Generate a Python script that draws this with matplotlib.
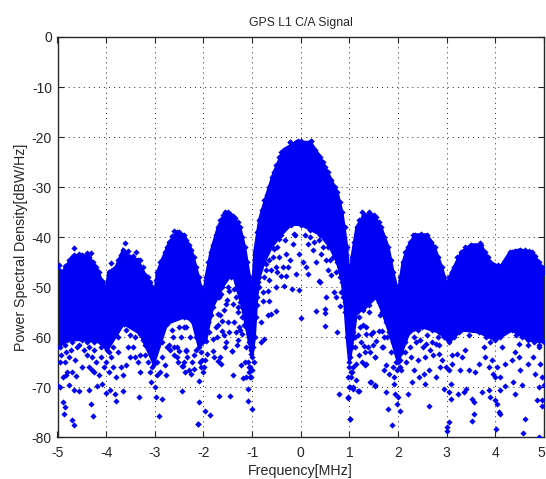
import matplotlib
matplotlib.use("Agg")
import matplotlib.pyplot as plt
from matplotlib.transforms import ScaledTranslation

plt.rcParams['font.family'] = ['Liberation Sans', 'DejaVu Sans']
plt.rcParams['axes.unicode_minus'] = False

# Upper edge of the dense cloud (MHz, dBW/Hz)
top_f = [-5,-4.9,-4.8,-4.7,-4.5,-4.35,-4.2,-4.1,-4.0,-3.95,-3.8,-3.65,-3.5,-3.35,-3.2,-3.1,-3.0,-2.95,-2.85,-2.7,-2.55,-2.4,-2.25,-2.15,-2.05,-2.0,-1.95,-1.85,-1.7,-1.55,-1.4,-1.25,-1.15,-1.05,-1.0,-0.95,-0.85,-0.7,-0.55,-0.35,-0.1,0.2,0.4,0.55,0.75,0.85,0.95,1.0,1.05,1.15,1.3,1.5,1.65,1.8,1.9,2.0,2.1,2.2,2.35,2.6,2.75,2.9,3.0,3.1,3.3,3.5,3.7,3.9,4.1,4.3,4.5,4.75,4.9,5]
top_db = [-46,-47,-45.5,-44,-43.5,-44,-46,-48.5,-50.5,-47,-46,-42.5,-44,-44.5,-47.5,-49,-51,-47,-44.5,-41,-39,-39.5,-42.5,-46,-50,-52,-48,-43,-38,-35,-35.8,-38,-42,-48,-52,-43,-36.5,-31.5,-27,-22.5,-21,-21,-24,-27,-31,-35,-42,-49,-44,-38,-35.5,-35.5,-38,-42,-47,-51,-45,-42,-39.5,-39.5,-42,-46,-49.5,-47,-43,-41.5,-41.5,-45,-46,-43,-42.5,-43,-45,-47]

# Lower edge of the dense cloud
low_f = [-5,-4.8,-4.5,-4.12,-3.98,-3.64,-3.3,-3.02,-2.75,-2.4,-2.23,-2.09,-1.95,-1.81,-1.61,-1.4,-1.2,-1.06,-1.0,-0.95,-0.9,-0.85,-0.75,-0.6,-0.4,-0.2,0,0.2,0.4,0.6,0.75,0.85,0.9,0.95,1.0,1.05,1.15,1.27,1.55,1.68,1.82,2.0,2.23,2.5,2.84,3.05,3.3,3.66,4.0,4.34,4.68,5]
low_db = [-62,-60.6,-60.5,-61,-62.6,-57.3,-59.3,-65.3,-57.3,-56,-56.7,-62,-60.7,-54,-50,-47,-54,-61,-64,-60,-52,-48,-45,-42,-39.5,-37.5,-37.5,-38.5,-39.5,-42,-45,-49,-53,-60,-65,-62,-55,-54.6,-52,-55,-59,-65,-59,-58,-59,-61,-58.6,-59,-60.6,-58.6,-60.6,-61]

# Points that roughen the upper edge
rim_f = [-4.97,-4.93,-4.87,-4.84,-4.76,-4.66,-4.6,-4.55,-4.45,-4.4,-4.32,-4.27,-4.15,-4.06,-3.97,-3.9,-3.84,-3.75,-3.7,-3.62,-3.55,-3.45,-3.38,-3.3,-3.25,-3.15,-3.05,-2.98,-2.9,-2.8,-2.75,-2.65,-2.6,-2.5,-2.45,-2.35,-2.3,-2.2,-2.1,-1.9,-1.8,-1.75,-1.65,-1.6,-1.5,-1.45,-1.35,-1.3,-1.2,-1.1,-0.9,-0.8,-0.75,-0.65,-0.6,-0.5,-0.45,-0.4,-0.3,-0.23,-0.18,-0.05,0.05,0.12,0.21,0.3,0.35,0.45,0.5,0.62,0.7,0.8,0.9,1.1,1.2,1.25,1.35,1.4,1.45,1.55,1.6,1.72,1.85,2.05,2.15,2.25,2.3,2.4,2.48,2.55,2.68,2.82,2.95,3.05,3.15,3.22,3.38,3.42,3.58,3.68,3.78,3.85,4.0,4.05,4.2,4.35,4.4,4.6,4.7,4.82,4.95]
rim_db = [-45.5,-48,-47,-45.8,-44.5,-43.6,-43.8,-43.4,-44,-43.2,-43.1,-45,-47,-49,-48.5,-45.2,-46.5,-44.5,-43.5,-41.2,-42.8,-43.8,-43,-44.5,-46,-48,-50,-48.5,-45,-43,-42,-39.8,-38.7,-39,-40,-40.5,-41.5,-44,-48,-45,-41.5,-39.5,-36.5,-35.5,-35,-35.3,-36.2,-37,-40,-45,-39,-34.5,-32.5,-30,-28,-25.5,-24,-23,-22.5,-21,-21.8,-20.7,-21.6,-22,-20.8,-22.5,-23.5,-25,-26,-28.5,-30,-33,-38,-41,-36.5,-35,-36,-35,-36.5,-36,-37,-40,-44.5,-48,-43,-41,-39.5,-40,-39.3,-40.2,-41,-44,-48,-48,-46,-44,-42,-43,-42,-41.2,-43,-44,-46,-45.5,-44.8,-43,-42.8,-42.6,-42.8,-43.8,-46]

# Points that roughen the lower edge
under_f = [-4.95,-4.85,-4.7,-4.55,-4.4,-4.25,-4.1,-3.95,-3.85,-3.75,-3.6,-3.5,-3.4,-3.25,-3.1,-2.95,-2.85,-2.65,-2.5,-2.35,-2.15,-2.05,-2.02,-1.9,-1.85,-1.7,-1.5,-1.3,-1.25,-1.12,-1.03,-0.98,1.02,1.1,1.2,1.4,1.6,1.75,1.9,2.08,2.15,2.3,2.42,2.6,2.7,2.95,3.15,3.25,3.45,3.55,3.8,3.9,4.1,4.2,4.42,4.55,4.8,4.9,-1.05,-1,-1.02,-1.07,-0.97,1.0,0.98,1.03,1.06,1.02,-2.05,-2.0,-2.08,-1.97,1.98,2.03,1.95,2.05,1.9]
under_db = [-62,-61.5,-61,-61.5,-61,-61,-62,-63,-62,-60,-58.5,-59.5,-60,-60.5,-63,-65,-61,-58.5,-58,-58,-60,-63,-64.5,-57,-55.5,-52,-50,-50.5,-53,-58,-62.5,-62,-64,-60,-56,-53.5,-53,-57,-61,-63,-61,-58,-58.5,-57.5,-58.5,-60,-60,-59,-59.5,-58,-60,-61,-60,-59,-59.5,-60,-61,-61.5,-66,-66.5,-68,-67,-65,-66,-68,-68,-67,-70,-66,-67,-65,-64.5,-66.5,-66,-65,-64.5,-66]

# Individually visible points
stray_f = [-4.66,-4.95,-5,-4.77,-4.66,-4.55,-4.89,-4.84,-4.86,-4.7,-4.67,-4.35,-4.31,-4.28,-4.19,-4.09,-4.0,-3.93,-3.81,-3.79,-3.66,-3.33,-3.08,-3,-2.97,-2.86,-2.91,-2.45,-2.09,-2.11,
 -4.95,-4.92,-4.85,-4.82,-4.76,-4.72,-4.65,-4.6,-4.88,-4.83,-4.80,-4.7,-4.62,-4.5,-4.45,-4.4,-4.35,-4.3,-4.25,-4.35,-4.3,-4.25,-4.2,-4.15,-4.1,-4.05,-4.0,-3.95,-3.9,-3.85,-3.8,-3.75,-3.7,-3.6,-3.65,-3.55,-3.5,-3.45,-3.4,-3.35,-3.3,-3.3,-3.2,-3.15,-3.2,-3.1,-3.05,-2.95,-2.9,-2.85,-2.8,-2.78,-2.75,-2.7,-2.6,-2.55,-2.45,-2.4,-2.35,
 -2.12,-1.97,-1.86,-1.69,-1.46,-1.4,-1.71,-1.63,-1.42,-1.18,-1.09,-1,-1.09,-1.04,-0.82,-0.75,-0.82,-0.68,-0.51,-0.61,-0.34,-0.19,-0.04,0,0.32,0.5,0.5,0.49,0.4,0.14,0.74,0.52,0.69,0.73,0.8,0.9,0.78,0.97,1.02,1.07,1.18,1.33,1.43,1.53,1.52,1.42,1.31,1.48,-0.23,0,0.21,
 -0.65,-0.44,-0.54,-0.71,-0.61,-0.51,-0.37,-0.27,-0.3,-0.41,-0.1,0.04,0.11,-0.03,-0.13,-0.16,0.25,0.32,0.42,0.52,0.56,0.38,-0.75,-0.85,-0.68,-0.78,-0.66,-0.51,-0.78,-0.3,-0.23,-0.44,0.14,0.38,0.55,0.66,
 -1.44,-1.64,-1.47,-1.37,-1.54,-1.4,-1.3,-1.71,-1.61,-1.5,-1.37,-1.2,-1.26,-1.61,-1.75,-1.81,-1.54,-1.42,-1.2,-1.13,-1.81,-1.92,-1.99,-2.19,-2.26,-2.09,-2.43,-2.36,-2.4,-2.5,-1.09,-1.02,-1.06,-1.13,
 1.27,1.35,1.17,1.34,1.44,1.61,1.67,1.55,1.34,1.53,1.14,1.03,1.14,1,1.07,1.19,0.97,1.01,1.44,1.53,1.76,1.8,1.87,1.94,1.99,1.97,2.04,2.21,2.64,2.28,2.55,2.43,2.53,2.33,2.64,2.77,2.4,2.55,2.72,2.57,2.36,2.77,1.82,1.92,2.06,2.16,1.92,
 2.95,3.05,3.08,3.04,3.01,3,3.23,3.35,3.4,3.52,3.56,3.56,3.51,3.73,3.86,3.88,4,4.03,4.08,4.1,4.01,4.1,4.2,4.37,4.54,4.41,4.61,4.57,4.89,4.85,4.95,4.95,4.89,5,
 2.91,2.98,3.11,3.21,3.11,3.32,3.28,3.45,3.58,3.66,3.79,3.93,3.86,3.96,4.1,4,4.03,4.2,4.34,4.41,4.48,4.51,4.68,4.78,4.92,4.82,4.95,3.76,4.14,4.48,4.68,4.89,3.04,3.08,3.38,2.87,2.84,
 -1.68,-1.58,-1.52,-1.33,-1.28,-1.66,-1.57,-1.33,-1.24,-1.7,-1.47,-1.28,-1.16,-1.73,-1.56,-1.32,-1.88,-1.66,-1.15,-1.78,-1.9,-1.22,-2.28,-2.2,-2.33,-2.15,-2.24,-2.3,-2.47,-2.55,-2.62,-2.68,-2.52,-2.6,-2.38,
 1.22,1.3,1.4,1.62,1.72,1.24,1.38,1.48,1.7,1.78,1.12,1.2,1.32,1.08,1.25,1.12,1.08,1.86,1.75,1.72,1.68,2.12,2.25,2.32,2.46,2.6,2.7,2.82,2.14,2.26,2.52,2.66,2.85,
 -0.88,-0.72,-0.58,-0.48,-0.33,-0.12,0.08,0.2,0.28,0.46,0.6,0.72,0.82,-0.9,-0.66,-0.48,0.62,0.8,0.86,-0.92]
stray_db = [-42.1,-70,-69.6,-69.6,-70.6,-70.7,-73,-74,-75.4,-76.5,-77.6,-70.5,-73.3,-75.7,-69.8,-69.3,-71.1,-70.6,-71.4,-72.8,-70.7,-71.9,-68.9,-69.9,-71.9,-72.4,-75.7,-70.7,-72.9,-77.3,
 -65,-63.5,-65,-63,-64,-62.5,-64.5,-62,-68,-67.5,-67,-67,-67.8,-66,-62.5,-63.5,-62,-64,-62.5,-66,-66.5,-67,-65,-67.5,-64,-66,-65,-67,-64,-66,-68,-63,-66,-65.5,-67.5,-62,-64,-62,-64,-65,-67,-63.5,-63.5,-65,-61.5,-67,-66,-67.5,-67,-64,-65.5,-67.5,-62,-61.5,-62,-64,-65.8,-65,-62.5,
 -77.3,-74.7,-75.5,-71.8,-71.8,-67.5,-64.7,-65.3,-62.7,-68.1,-72.7,-74.3,-70.4,-68,-61,-60.4,-57,-55.5,-54.7,-55.3,-49.7,-50.3,-50.5,-56.1,-54.7,-54.3,-55.2,-57.7,-49,-47.3,-59,-52,-51,-52,-53.7,-55,-71.3,-72.2,-76.3,-70,-70.7,-65.5,-69,-69.8,-64,-63,-61.7,-59,-21,-20.7,-20.8,
 -44.6,-44,-42.3,-45.3,-46.6,-46,-46,-46,-47.7,-47.7,-47.3,-45,-46,-43.3,-39.3,-41.3,-42.6,-45,-43.3,-44.6,-46.6,-48.7,-48,-50,-50.7,-52.7,-52.7,-50,-51,-43.3,-44.6,-40.3,-41.3,-40.6,-42,-44,
 -48,-51.3,-50.7,-50.3,-53.3,-53.3,-54,-55.3,-56.7,-57,-57,-56,-58,-58.7,-58,-60.3,-61,-62.7,-59.3,-62,-62.7,-63.3,-66,-66.3,-67.3,-68.7,-65.7,-62.7,-58,-62.7,-65,-63.3,-66,-68,
 -57.6,-58,-59.6,-59.3,-59.3,-58.7,-58.7,-60.7,-65.3,-63.9,-65.3,-67,-68.6,-70,-70.3,-70.7,-72,-76.3,-69,-69.5,-71,-74.3,-77.6,-71.3,-72,-73.4,-74.7,-71.4,-73.8,-69,-69.3,-68,-67.3,-66.6,-66.6,-68,-64.6,-64,-63.6,-61.3,-61,-61.3,-67.3,-68,-66.6,-65,-69.3,
 -70.3,-71,-72.3,-76.9,-78,-78.7,-71.3,-70.9,-70.3,-72.3,-73,-75.3,-76.7,-71,-70.6,-72,-72.6,-73.4,-75,-75.4,-78.3,-70.6,-69.8,-69,-69.5,-71.3,-76.4,-79.1,-80,-72.6,-72.6,-73.8,-70,-69.6,
 -64.6,-66,-63.6,-63.3,-65.3,-64,-66.6,-66.6,-67,-65.3,-64,-64.6,-66,-67.3,-68,-68,-66,-65.3,-64.6,-63,-64,-66.6,-65.3,-64,-65.3,-67.3,-68,-62,-62,-61.3,-61.6,-62,-66.6,-69.3,-62.6,-66,-63.3,
 -52,-54.5,-52.5,-52,-55,-55.5,-59.5,-59,-58.5,-57.5,-59,-60.5,-57.5,-60,-62,-61.5,-59,-64,-65,-64,-57,-65.5,-60,-63.5,-64,-62.5,-65,-66.5,-60,-62,-60,-62.5,-65,-63.5,-67,
 -58,-54,-55,-55.5,-60,-61,-62,-61.5,-62,-60,-62,-63.5,-63,-66,-65,-60,-59,-63,-65.5,-66.5,-62,-60.5,-62,-60,-60.5,-59.5,-61,-60,-63,-64,-62,-62.5,-61.5,
 -49,-46.5,-44,-42,-40.5,-39.5,-39.5,-40,-41,-42,-44.5,-47,-51,-53.5,-48.5,-47,-47.5,-48,-52,-56]

x_ticks = [-5,-4,-3,-2,-1,0,1,2,3,4,5]
y_ticks = [-80,-70,-60,-50,-40,-30,-20,-10,0]
BLUE = '#0000f5'
INK = '#262626'

fig = plt.figure(figsize=(5.46, 4.79), dpi=100)
ax = fig.add_axes([57.5/546, (479-437.3)/479, 486.5/546, 400.3/479])

ax.grid(True, color=INK, linestyle=(0, (1, 4.2)), linewidth=0.7, zorder=1)
ax.set_axisbelow(True)

# Dense region: the area between the upper and lower edges
ax.fill(top_f + low_f[::-1], top_db + low_db[::-1], color=BLUE, lw=2, zorder=2)
marker = dict(marker='D', s=10, c=BLUE, linewidths=0, zorder=3)
for fs, dbs in [(top_f, top_db), (low_f, low_db), (rim_f, rim_db), (under_f, under_db), (stray_f, stray_db)]:
    ax.scatter(fs, dbs, **marker)

ax.set_xlim(-5, 5)
ax.set_ylim(-80, 0)
ax.set_xticks(x_ticks)
ax.set_yticks(y_ticks)
ax.tick_params(direction='in', length=4.5, width=0.8, labelsize=10, color=INK,
               labelcolor=INK, top=True, right=True)
ax.tick_params(axis='x', pad=6)
ax.tick_params(axis='y', pad=4)
for s in ax.spines.values():
    s.set_linewidth(1.0)
    s.set_color(INK)

# Keep the last tick label inside the picture
last = ax.get_xticklabels()[-1]
last.set_transform(last.get_transform() + ScaledTranslation(-3/100, 0, fig.dpi_scale_trans))

ax.set_title('GPS L1 C/A Signal', fontsize=8.8, color=INK, pad=8)
ax.set_xlabel('Frequency[MHz]', fontsize=10.3, color=INK, labelpad=3)
ax.set_ylabel('Power Spectral Density[dBW/Hz]', fontsize=10.2, color=INK, labelpad=3, y=0.475)
fig.savefig('out.png', dpi=100)
